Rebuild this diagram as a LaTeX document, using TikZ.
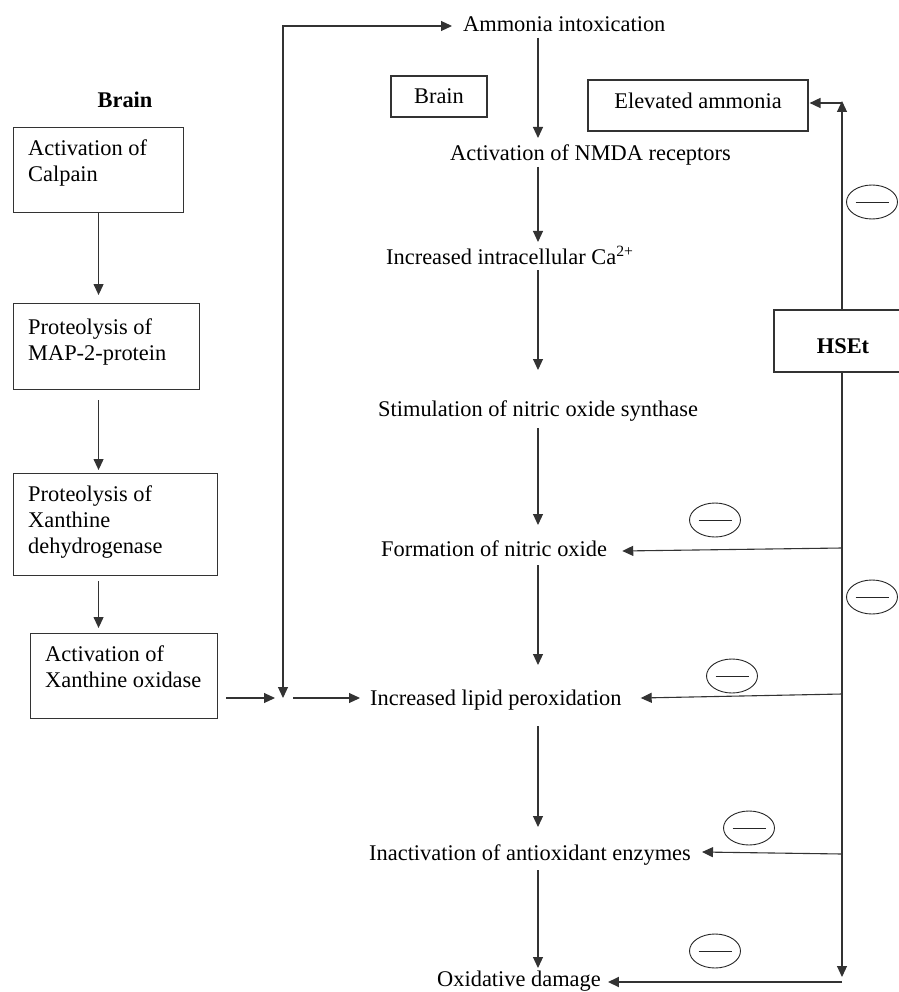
\documentclass[tikz,border=0pt]{standalone}
\usepackage{fontspec}
\setmainfont{Liberation Serif}
\usetikzlibrary{arrows.meta,shapes.geometric,calc}
\begin{document}
\begin{tikzpicture}[x=1pt,y=-1pt,
  every node/.style={font=\fontsize{22.4pt}{26pt}\selectfont, text=black},
  ln/.style={line width=1.1pt, draw=black!80},
  arr/.style={ln, -{Triangle[length=11pt,width=10pt]}},
  arrboth/.style={ln, {Triangle[length=11pt,width=10pt]}-{Triangle[length=11pt,width=10pt]}},
  box/.style={ln, draw, rectangle, inner sep=0pt},
  lbl/.style={inner sep=0pt, anchor=west, text height=15.5pt, text depth=0.5pt},
  mtext/.style={inner sep=0pt, anchor=north west, align=left},
  inh/.style={ellipse, draw=black!85, line width=0.9pt, minimum width=51pt, minimum height=34pt, inner sep=0pt,
    path picture={\draw[line width=0.9pt, black!85] ([xshift=9pt]path picture bounding box.west) -- ([xshift=-9pt]path picture bounding box.east);}}
]
\useasboundingbox (0,0) rectangle (898,992);

% ---------- left column ----------
\node[font=\fontsize{22.4pt}{26pt}\selectfont\bfseries] (brainL) at (125,100) {Brain};
\node[box, anchor=north west, minimum width=170pt, minimum height=85pt] (b1) at (13,127) {};
\node[box, anchor=north west, minimum width=186pt, minimum height=86pt] (b2) at (13,303) {};
\node[box, anchor=north west, minimum width=204pt, minimum height=102pt] (b3) at (13,473) {};
\node[box, anchor=north west, minimum width=187pt, minimum height=85pt] (b4) at (30,633) {};
\node[mtext] (t1) at (28,140) {Activation of\\Calpain};
\node[mtext] (t2) at (28,319) {Proteolysis of\\MAP-2-protein};
\node[mtext] (t3) at (28,486) {Proteolysis of\\Xanthine\\dehydrogenase};
\node[mtext] (t4) at (45,646) {Activation of\\Xanthine oxidase};

\draw[arr] (b1.south) -- ($(b1.south |- b2.north)+(0,-8)$);
\draw[arr] ($(b1.south |- b2.south)+(0,10)$) -- ($(b1.south |- b3.north)+(0,-3)$);
\draw[arr] ($(b1.south |- b3.south)+(0,5)$) -- ($(b1.south |- b4.north)+(0,-5)$);

% ---------- central column ----------
\coordinate (col) at (538,0);
\node[lbl] (amm) at (463,24) {Ammonia intoxication};
\node[box, minimum width=96pt, minimum height=41pt] (brainbox) at (439,96.5) {Brain};
\node[lbl] (nmda) at (450,153) {Activation of NMDA receptors};
\node[lbl] (ca) at (386,257) {Increased intracellular Ca\textsuperscript{2+}};
\node[lbl] (stim) at (378,409) {Stimulation of nitric oxide synthase};
\node[lbl] (no) at (381,549) {Formation of nitric oxide};
\node[lbl] (lip) at (370,698) {Increased lipid peroxidation};
\node[lbl] (enz) at (369,853) {Inactivation of antioxidant enzymes};
\node[lbl] (oxd) at (437,979) {Oxidative damage};

\draw[arr] ($(amm.center -| col)+(0,14)$) -- ($(nmda.center -| col)+(0,-15)$);
\draw[arr] ($(nmda.center -| col)+(0,14)$) -- ($(ca.center -| col)+(0,-15)$);
\draw[arr] ($(ca.center -| col)+(0,13)$) -- ($(stim.center -| col)+(0,-39)$);
\draw[arr] ($(stim.center -| col)+(0,19)$) -- ($(no.center -| col)+(0,-24)$);
\draw[arr] ($(no.center -| col)+(0,16)$) -- ($(lip.center -| col)+(0,-33)$);
\draw[arr] ($(lip.center -| col)+(0,28)$) -- ($(enz.center -| col)+(0,-26)$);
\draw[arr] ($(enz.center -| col)+(0,17)$) -- ($(oxd.center -| col)+(0,-11)$);

% junction from xanthine oxidase
\coordinate (J) at (283,698);
\draw[arr] ($(b4.east |- J)+(8,0)$) -- ($(J)+(-8,0)$);
\draw[arr] ($(J)+(10,0)$) -- ($(lip.west)+(-10,0)$);
\draw[arrboth] (J) |- ($(amm.west)+(-11,2)$);

% ---------- right side ----------
\node[box, minimum width=220pt, minimum height=51pt, text height=6pt, text depth=0pt] (elev) at (698,105.5) {Elevated ammonia};
\node[box, minimum width=138pt, minimum height=62pt, text height=25pt, text depth=0pt, font=\fontsize{22.4pt}{26pt}\selectfont\bfseries] (hset) at (843,341) {HSEt};

\coordinate (vtop) at (842,101);
\coordinate (vbot) at (842,977);
\draw[arr] (hset.north -| vtop) -- (vtop);
\draw[arr, line width=1.5pt] ($(vtop)+(0,2)$) -- ($(elev.east |- vtop)+(1,2)$);
\draw[arr] (hset.south -| vbot) -- (vbot);

\draw[arr] ($(vtop |- no.center)+(0,-1)$) -- ($(no.east)+(15,2)$);
\draw[arr] ($(vtop |- lip.center)+(0,-4)$) -- ($(lip.east)+(19,0)$);
\draw[arr] ($(vtop |- enz.center)+(0,1)$) -- ($(enz.east)+(11,-1)$);
\draw[arr, line width=1.9pt] ($(vbot)+(0,5)$) -- ($(oxd.east)+(7,3)$);

% inhibition marks
\node[inh] (m1) at (872,202) {};
\node[inh] (m2) at (715,520) {};
\node[inh] (m3) at (872,597) {};
\node[inh] (m4) at (732,676) {};
\node[inh] (m5) at (749,828) {};
\node[inh] (m6) at (715,951) {};
\end{tikzpicture}
\end{document}
